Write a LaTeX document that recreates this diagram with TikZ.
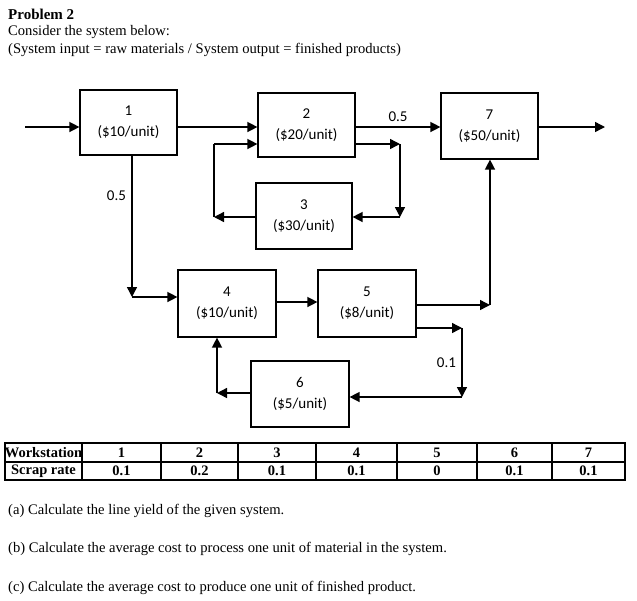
\documentclass[tikz,border=0pt]{standalone}
\usepackage{fontspec}
\setmainfont{Liberation Serif}
\newfontfamily\carlitofont{Carlito}
\usetikzlibrary{arrows.meta}
\begin{document}
\begin{tikzpicture}[x=1pt,y=-1pt,
  ws/.style={draw,line width=1.2pt,inner sep=0pt,font=\carlitofont\fontsize{15}{21}\selectfont,align=center},
  ar/.style={line width=1.4pt,-{Triangle[length=10pt,width=10pt]}},
  ln/.style={line width=1.4pt},
  lb/.style={font=\carlitofont\fontsize{15}{18}\selectfont},
  tx/.style={anchor=west,inner sep=0pt,font=\fontsize{14.6}{16}\selectfont},
  tc/.style={font=\bfseries\fontsize{14.5}{16}\selectfont,inner sep=0pt}]
\useasboundingbox (0,0) rectangle (637,600);
\node[tx,font=\bfseries\fontsize{15}{16}\selectfont] (t0) at (8,14) {Problem 2};
\node[tx] (t1) at (8,32) {Consider the system below:};
\node[tx] (t2) at (8,50) {(System input = raw materials / System output = finished products)};
% boxes
\node[ws,minimum width=97pt,minimum height=65pt] (b1) at (128.5,122.5) {1\\(\$10/unit)};
\node[ws,minimum width=97pt,minimum height=64pt] (b2) at (306.5,125) {2\\(\$20/unit)};
\node[ws,minimum width=97pt,minimum height=66pt] (b7) at (489.5,126) {7\\(\$50/unit)};
\node[ws,minimum width=96pt,minimum height=66pt] (b3) at (304,216) {3\\(\$30/unit)};
\node[ws,minimum width=98pt,minimum height=67pt] (b4) at (227,303.5) {4\\(\$10/unit)};
\node[ws,minimum width=98pt,minimum height=67pt] (b5) at (367,303.5) {5\\(\$8/unit)};
\node[ws,minimum width=98pt,minimum height=66pt] (b6) at (300,394) {6\\(\$5/unit)};
% coordinates
\coordinate (in) at (25,127);
\coordinate (out) at (605,127);
\coordinate (p1) at (400,144);
\coordinate (p2) at (400,217);
\coordinate (p3) at (214,217);
\coordinate (p4) at (214,144);
\coordinate (q1) at (132,297);
\coordinate (r1) at (490,305);
\coordinate (s1) at (462,328);
\coordinate (s2) at (462,397);
\coordinate (u1) at (217,393);
% connectors
\draw[ar] (in) -- (b1.west|-in);
\draw[ar] (b1.east|-in) -- (b2.west|-in);
\draw[ar] (b2.east|-in) -- node[lb,above=1pt] {0.5} (b7.west|-in);
\draw[ar] (b7.east|-in) -- (out);
\draw[ar] (b2.east|-p1) -- (p1);
\draw[ar] (p1) -- (p2);
\draw[ar] (p2) -- (b3.east|-p2);
\draw[ar] (b3.west|-p3) -- (p3);
\draw[ln] (p3) -- (p4);
\draw[ar] (p4) -- (b2.west|-p4);
\draw[ar] (b1.south-|q1) -- node[lb,left=2pt,pos=0.28] {0.5} (q1);
\draw[ar] (q1) -- (b4.west|-q1);
\draw[ar] (b4.east|-0,302) -- (b5.west|-0,302);
\draw[ar] (b5.east|-r1) -- (r1);
\draw[ar] (r1) -- (b7.south-|r1);
\draw[ar] (b5.east|-s1) -- (s1);
\draw[ar] (s1) -- node[lb,left=2pt] {0.1} (s2);
\draw[ar] (s2) -- (b6.east|-s2);
\draw[ar] (b6.west|-u1) -- (u1);
\draw[ar] (u1) -- (b4.south-|u1);
% table
\draw[line width=1.6pt] (5,443) rectangle (625,480);
\draw[line width=1.1pt] (5,462) -- (625,462);
\foreach \x in {82,161,238,316,397,477,552} \draw[line width=1.1pt] (\x,443) -- (\x,480);
\node[tc] (h0) at (43.5,453) {Workstation};
\node[tc] (r0) at (43.5,471) {Scrap rate};
\foreach \i/\c/\v in {1/121.5/0.1,2/199.5/0.2,3/277/0.1,4/356.5/0.1,5/437/0,6/514.5/0.1,7/588.5/0.1}{
  \node[tc] (h\i) at (\c,453) {\i};
  \node[tc] (r\i) at (\c,471) {\v};}
\node[tx] (qa) at (8,511) {(a) Calculate the line yield of the given system.};
\node[tx] (qb) at (8,549) {(b) Calculate the average cost to process one unit of material in the system.};
\node[tx] (qc) at (8,588) {(c) Calculate the average cost to produce one unit of finished product.};
\end{tikzpicture}
\end{document}
